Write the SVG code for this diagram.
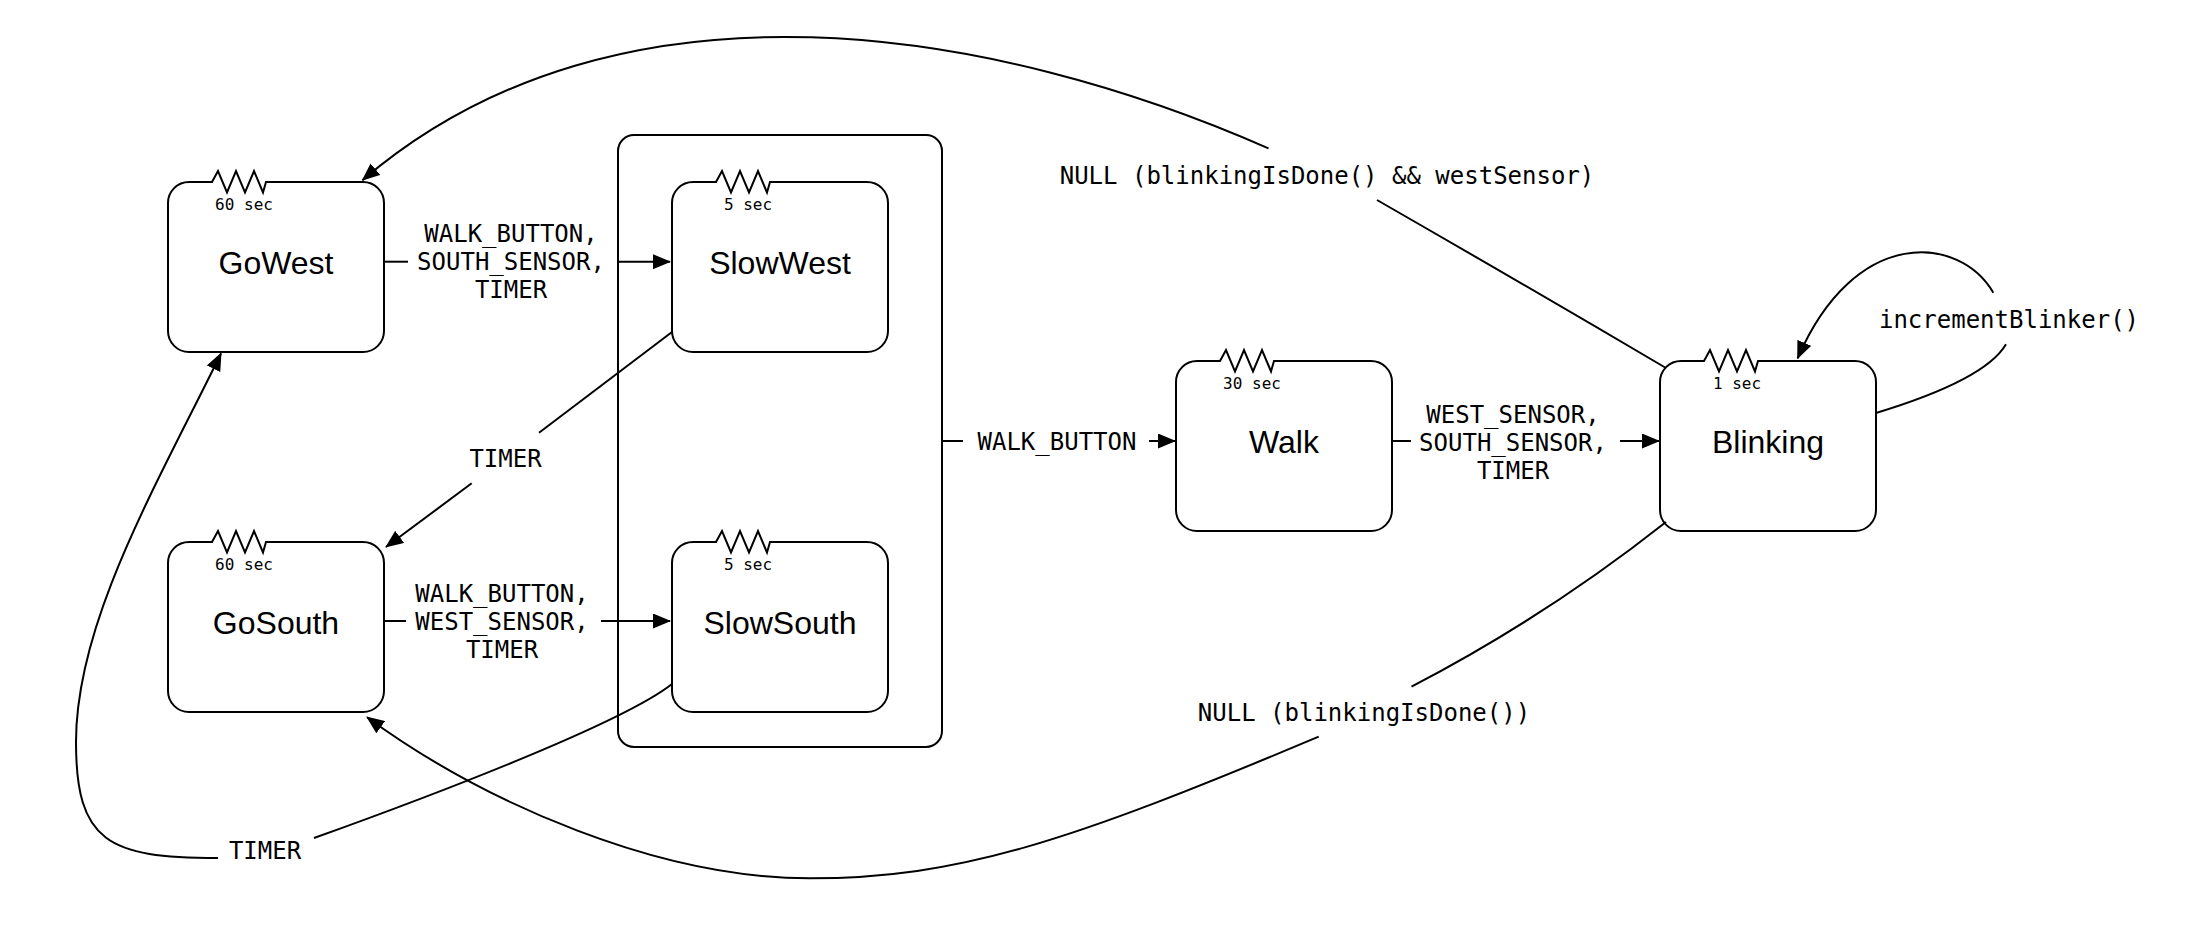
<svg xmlns="http://www.w3.org/2000/svg" xmlns:xlink="http://www.w3.org/1999/xlink" width="2188" height="931" viewBox="0 0 2188 931">
<style>
.box{fill:#fff;stroke:#000;stroke-width:2}
.ln{fill:none;stroke:#000;stroke-width:2}
.name{font-family:"Liberation Sans",Arial,Helvetica,sans-serif;font-size:32px;fill:#000;text-anchor:middle}
.t{font-family:"DejaVu Sans Mono","Liberation Mono",monospace;font-size:16px;fill:#000;text-anchor:middle}
.lbl{font-family:"DejaVu Sans Mono","Liberation Mono",monospace;font-size:24px;fill:#000;text-anchor:middle}
</style>
<defs>
<path id="state" d="M21,0 H44 L50,-11 L59,10.5 L68,-11 L77,10.5 L86,-11 L95,10.5 L98,0 H195 A21,21 0 0 1 216,21 V149 A21,21 0 0 1 195,170 H21 A21,21 0 0 1 0,149 V21 A21,21 0 0 1 21,0 Z"/>
<marker id="arr" viewBox="0 0 18 15" refX="17" refY="7.5" markerWidth="18" markerHeight="15" markerUnits="userSpaceOnUse" orient="auto">
<path d="M0,0 L18,7.5 L0,15 Z" fill="#000"/>
</marker>
</defs>
<rect width="2188" height="931" fill="#fff"/>

<g id="container">
<rect class="box" x="618" y="135" width="324" height="612" rx="16" ry="16"/>
</g>

<g id="GoWest">
<use xlink:href="#state" href="#state" class="box" x="168" y="182"/>
<text class="t" x="244" y="210">60 sec</text>
<text class="name" x="276" y="273.5">GoWest</text>
</g>
<g id="SlowWest">
<use xlink:href="#state" href="#state" class="box" x="672" y="182"/>
<text class="t" x="748" y="210">5 sec</text>
<text class="name" x="780" y="273.5">SlowWest</text>
</g>
<g id="GoSouth">
<use xlink:href="#state" href="#state" class="box" x="168" y="542"/>
<text class="t" x="244" y="570">60 sec</text>
<text class="name" x="276" y="633.5">GoSouth</text>
</g>
<g id="SlowSouth">
<use xlink:href="#state" href="#state" class="box" x="672" y="542"/>
<text class="t" x="748" y="570">5 sec</text>
<text class="name" x="780" y="633.5">SlowSouth</text>
</g>
<g id="Walk">
<use xlink:href="#state" href="#state" class="box" x="1176" y="361"/>
<text class="t" x="1252" y="389">30 sec</text>
<text class="name" x="1284" y="452.5">Walk</text>
</g>
<g id="Blinking">
<use xlink:href="#state" href="#state" class="box" x="1660" y="361"/>
<text class="t" x="1737" y="389">1 sec</text>
<text class="name" x="1768" y="452.5">Blinking</text>
</g>

<g id="connectors">
<!-- GoWest -> SlowWest -->
<path class="ln" d="M384,261.7 H408"/>
<path class="ln" d="M618,261.7 H670" marker-end="url(#arr)"/>
<text class="lbl" x="511" y="242">WALK_BUTTON,</text>
<text class="lbl" x="511" y="270">SOUTH_SENSOR,</text>
<text class="lbl" x="511" y="298">TIMER</text>

<!-- GoSouth -> SlowSouth -->
<path class="ln" d="M384,621 H406"/>
<path class="ln" d="M601,621 H670" marker-end="url(#arr)"/>
<text class="lbl" x="502" y="602">WALK_BUTTON,</text>
<text class="lbl" x="502" y="630">WEST_SENSOR,</text>
<text class="lbl" x="502" y="658">TIMER</text>

<!-- SlowWest -> GoSouth -->
<path class="ln" d="M672,332 L539,432.7"/>
<path class="ln" d="M471.7,483.3 L386,547" marker-end="url(#arr)"/>
<text class="lbl" x="505.5" y="466.7">TIMER</text>

<!-- SlowSouth -> GoWest -->
<path class="ln" d="M672,684 C620,725 420,800 314,838"/>
<path class="ln" d="M218,858 C108,858 76,842 76,742 C76,622 155.7,486.7 221,353.5" marker-end="url(#arr)"/>
<text class="lbl" x="265" y="859">TIMER</text>

<!-- Container -> Walk -->
<path class="ln" d="M942,441 H963"/>
<path class="ln" d="M1149,441 H1175" marker-end="url(#arr)"/>
<text class="lbl" x="1057" y="450">WALK_BUTTON</text>

<!-- Walk -> Blinking -->
<path class="ln" d="M1392,441 H1411"/>
<path class="ln" d="M1620,441 H1659" marker-end="url(#arr)"/>
<text class="lbl" x="1513" y="423">WEST_SENSOR,</text>
<text class="lbl" x="1513" y="451">SOUTH_SENSOR,</text>
<text class="lbl" x="1513" y="479">TIMER</text>

<!-- Blinking -> GoWest -->
<path class="ln" d="M1666,368 Q1525,285 1377,200"/>
<path class="ln" d="M1268.5,148.3 C1000,30 620,-40 362.5,180.2" marker-end="url(#arr)"/>
<text class="lbl" x="1327" y="184">NULL (blinkingIsDone() &amp;&amp; westSensor)</text>

<!-- Blinking -> GoSouth -->
<path class="ln" d="M1666,522 Q1546.7,616.3 1411.5,686.7"/>
<path class="ln" d="M1318.7,736.7 C1068.7,841.7 959.5,878.3 809.5,878.3 C659.5,878.3 486.4,804.3 367,717.2" marker-end="url(#arr)"/>
<text class="lbl" x="1364" y="721">NULL (blinkingIsDone())</text>

<!-- Blinking self loop -->
<path class="ln" d="M1876,413 Q1985,380 2006,344.3"/>
<path class="ln" d="M1993.3,292.7 C1960,235 1855,225 1797.6,358.4" marker-end="url(#arr)"/>
<text class="lbl" x="2009" y="327.5">incrementBlinker()</text>
</g>
</svg>
